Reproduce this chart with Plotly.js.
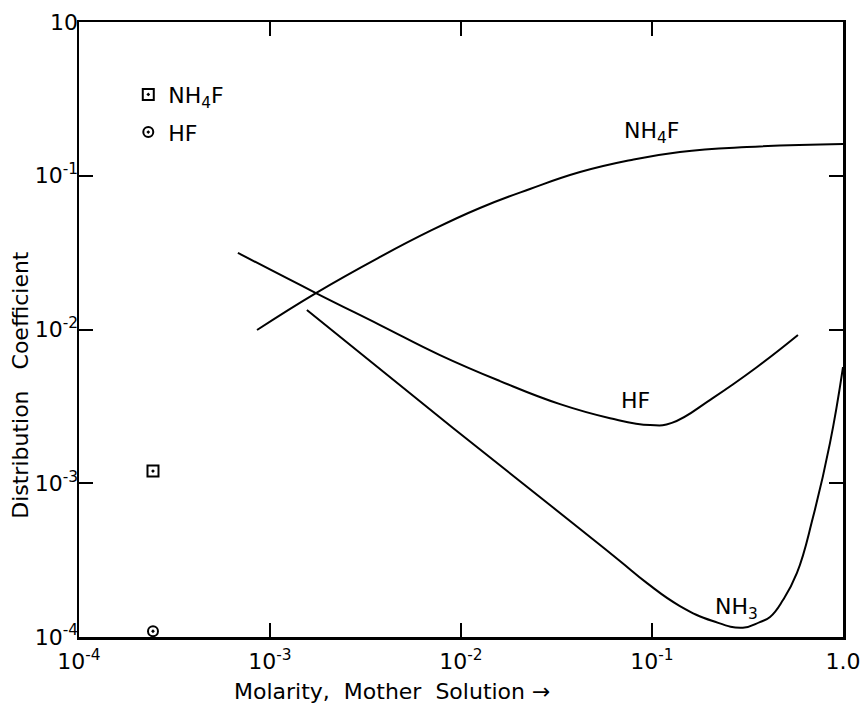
<!DOCTYPE html>
<html>
<head>
<meta charset="utf-8">
<script src="https://cdn.plot.ly/plotly-3.0.1.min.js"></script>
<style>html,body{margin:0;padding:0;background:#fff;}#chart{width:862px;height:708px;}</style>
</head>
<body>
<div id="chart"></div>
<script>
// NH4F curve
const nh4fX = [8.55e-4, 1.74e-3, 3.77e-3, 6.89e-3, 0.01256, 0.02296, 0.0420, 0.0767, 0.140, 0.314, 1.0];
const nh4fY = [0.00993, 0.01726, 0.02965, 0.04375, 0.0617, 0.0820, 0.1057, 0.1262, 0.1428, 0.1538, 0.1607];
// HF curve
const hfX = [6.79e-4, 1.74e-3, 3.77e-3, 7.76e-3, 0.0160, 0.0330, 0.0603, 0.0977, 0.127, 0.208, 0.355, 0.581];
const hfY = [0.0315, 0.01726, 0.01069, 6.82e-3, 4.62e-3, 3.27e-3, 2.65e-3, 2.39e-3, 2.47e-3, 3.58e-3, 5.70e-3, 9.20e-3];
// NH3 curve
const nh3X = [1.56e-3, 9.08e-3, 0.0420, 0.0679, 0.0942, 0.140, 0.208, 0.299, 0.367, 0.415, 0.485, 0.574, 0.697, 0.855, 1.0];
const nh3Y = [0.01340, 2.29e-3, 5.04e-4, 3.12e-4, 2.24e-4, 1.59e-4, 1.27e-4, 1.15e-4, 1.25e-4, 1.35e-4, 1.74e-4, 2.61e-4, 6.03e-4, 1.83e-3, 5.70e-3];
// isolated points
const ptNH4FX = [2.44e-4];
const ptNH4FY = [1.20e-3];
const ptHFX = [2.44e-4];
const ptHFY = [1.09e-4];
// ticks
const xTickVals = [1e-4, 1e-3, 1e-2, 1e-1, 1];
const xTickText = ["10<sup>-4</sup>", "10<sup>-3</sup>", "10<sup>-2</sup>", "10<sup>-1</sup>", "1.0"];
const yTickVals = [1e-4, 1e-3, 1e-2, 1e-1, 1];
const yTickText = ["10<sup>-4</sup>", "10<sup>-3</sup>", "10<sup>-2</sup>", "10<sup>-1</sup>", "10"];

const FONT = "DejaVu Sans, Liberation Sans, sans-serif";
const lineStyle = {color: "#000", width: 2, shape: "spline", smoothing: 1.3};

const traces = [
  {x: nh4fX, y: nh4fY, mode: "lines", line: lineStyle, showlegend: false, hoverinfo: "skip"},
  {x: hfX, y: hfY, mode: "lines", line: lineStyle, showlegend: false, hoverinfo: "skip"},
  {x: nh3X, y: nh3Y, mode: "lines", line: lineStyle, showlegend: false, hoverinfo: "skip"},
  {x: ptNH4FX, y: ptNH4FY, mode: "markers", name: "NH<sub>4</sub>F", legendgroup: "a",
   marker: {symbol: "square-open-dot", size: 11, color: "#000", line: {color: "#000", width: 2}}, cliponaxis: false},
  {x: ptHFX, y: ptHFY, mode: "markers", name: "HF", legendgroup: "b",
   marker: {symbol: "circle-open-dot", size: 10, color: "#000", line: {color: "#000", width: 2}}, cliponaxis: false}
];

const axisCommon = {
  type: "log", showgrid: false, zeroline: false, showline: true, linecolor: "#000", linewidth: 2.5,
  mirror: "ticks", ticks: "inside", ticklen: 14, tickwidth: 2, tickcolor: "#000",
  tickfont: {family: FONT, size: 22, color: "#000"}, tickmode: "array"
};

const layout = {
  width: 862, height: 708,
  margin: {l: 79, r: 19, t: 22, b: 71, pad: 0},
  paper_bgcolor: "#fff", plot_bgcolor: "#fff",
  font: {family: FONT, size: 22, color: "#000"},
  xaxis: Object.assign({}, axisCommon, {range: [-4, 0], tickvals: xTickVals, ticktext: xTickText, ticklabelstandoff: 3}),
  yaxis: Object.assign({}, axisCommon, {range: [-4, 0], tickvals: yTickVals, ticktext: yTickText, ticklabelstandoff: -6}),
  showlegend: true,
  legend: {x: 0.0645, y: 0.916, xanchor: "left", yanchor: "top", bgcolor: "rgba(0,0,0,0)",
           font: {family: FONT, size: 22, color: "#000"}, tracegroupgap: 6, itemwidth: 30},
  annotations: [
    {text: "NH<sub>4</sub>F", xref: "paper", yref: "paper", x: 0.749, y: 0.820, xanchor: "center", yanchor: "middle",
     showarrow: false, font: {family: FONT, size: 22, color: "#000"}},
    {text: "HF", xref: "paper", yref: "paper", x: 0.729, y: 0.385, xanchor: "center", yanchor: "middle",
     showarrow: false, font: {family: FONT, size: 22, color: "#000"}},
    {text: "NH<sub>3</sub>", xref: "paper", yref: "paper", x: 0.860, y: 0.047, xanchor: "center", yanchor: "middle",
     showarrow: false, font: {family: FONT, size: 22, color: "#000"}},
    {text: "Molarity,  Mother  Solution \u2192", xref: "paper", yref: "paper", x: 0.41, y: -0.089,
     xanchor: "center", yanchor: "middle", showarrow: false, font: {family: FONT, size: 22, color: "#000"}},
    {text: "Distribution\u00A0\u00A0\u00A0Coefficient", xref: "paper", yref: "paper", x: -0.076, y: 0.41,
     xanchor: "center", yanchor: "middle", textangle: -90, showarrow: false, font: {family: FONT, size: 22, color: "#000"}}
  ]
};

Plotly.newPlot("chart", traces, layout, {staticPlot: true, displayModeBar: false});
</script>
</body>
</html>
